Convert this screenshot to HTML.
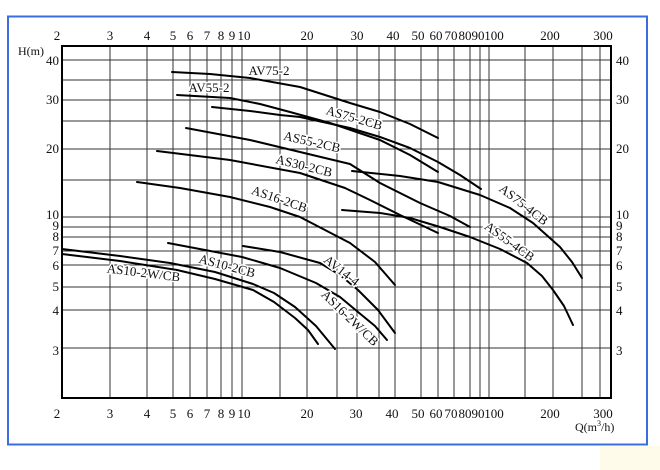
<!DOCTYPE html>
<html><head><meta charset="utf-8"><style>
html,body{margin:0;padding:0;background:#fff;}
svg{display:block;}
text{font-family:"Liberation Serif",serif;fill:#111;}
</style></head><body>
<svg width="660" height="470" viewBox="0 0 660 470" xmlns="http://www.w3.org/2000/svg">
<rect x="0" y="0" width="660" height="470" fill="#fff"/>
<rect x="600" y="446" width="60" height="24" fill="#fffbea"/>
<rect x="8" y="16.5" width="639" height="428" fill="none" stroke="#3a6ee0" stroke-width="2"/>
<g stroke="#333" stroke-width="1">
<line x1="110" y1="46" x2="110" y2="398"/><line x1="147" y1="46" x2="147" y2="398"/>
<line x1="173" y1="46" x2="173" y2="398"/><line x1="190" y1="46" x2="190" y2="398"/>
<line x1="207" y1="46" x2="207" y2="398"/><line x1="221" y1="46" x2="221" y2="398"/>
<line x1="232" y1="46" x2="232" y2="398"/><line x1="242" y1="46" x2="242" y2="398"/>
<line x1="280" y1="46" x2="280" y2="398"/><line x1="307" y1="46" x2="307" y2="398"/>
<line x1="337" y1="46" x2="337" y2="398"/><line x1="357" y1="46" x2="357" y2="398"/>
<line x1="379" y1="46" x2="379" y2="398"/><line x1="395" y1="46" x2="395" y2="398"/>
<line x1="421" y1="46" x2="421" y2="398"/><line x1="438" y1="46" x2="438" y2="398"/>
<line x1="454" y1="46" x2="454" y2="398"/><line x1="470" y1="46" x2="470" y2="398"/>
<line x1="480" y1="46" x2="480" y2="398"/><line x1="489" y1="46" x2="489" y2="398"/>
<line x1="525" y1="46" x2="525" y2="398"/><line x1="553" y1="46" x2="553" y2="398"/>
<line x1="582" y1="46" x2="582" y2="398"/><line x1="600" y1="46" x2="600" y2="398"/>
<line x1="62" y1="60" x2="611" y2="60"/><line x1="62" y1="80" x2="611" y2="80"/>
<line x1="62" y1="100" x2="611" y2="100"/><line x1="62" y1="121" x2="611" y2="121"/>
<line x1="62" y1="149" x2="611" y2="149"/><line x1="62" y1="180" x2="611" y2="180"/>
<line x1="62" y1="217" x2="611" y2="217"/><line x1="62" y1="227" x2="611" y2="227"/>
<line x1="62" y1="237" x2="611" y2="237"/><line x1="62" y1="251" x2="611" y2="251"/>
<line x1="62" y1="265" x2="611" y2="265"/><line x1="62" y1="287" x2="611" y2="287"/>
<line x1="62" y1="310" x2="611" y2="310"/><line x1="62" y1="348" x2="611" y2="348"/>
</g>
<rect x="62" y="46" width="549" height="352" fill="none" stroke="#000" stroke-width="2"/>
<g fill="none" stroke="#000" stroke-width="2" stroke-linejoin="round" stroke-linecap="round">
<polyline points="172,72 210,74 250,78 300,87 350,103 380,112 410,124 438,138"/>
<polyline points="177,95 230,98 260,104 290,112 330,123 380,140 410,155 438,172"/>
<polyline points="212,107 250,111 280,115 300,117 350,128 380,137 410,148 438,162 460,175 481,189"/>
<polyline points="186,128 250,140 300,152 350,164 380,183 420,203 450,216 470,227"/>
<polyline points="157,151 230,160 300,173 345,188 370,200 400,215 438,233"/>
<polyline points="137,182 180,188 230,197 270,207 300,217 350,243 375,262 395,285"/>
<polyline points="352,171 400,176 438,182 480,195 510,208 533,223 560,247 572,262 582,278"/>
<polyline points="342,210 380,213 410,218 440,227 470,237 500,249 527,263 542,276 553,290 564,306 573,325"/>
<polyline points="243,246 280,252 320,263 340,275 358,290 378,310 395,333"/>
<polyline points="168,243 205,250 242,257 280,268 316,283 340,297 358,312 375,326 387,340"/>
<polyline points="62,249 120,256 170,263 215,272 253,284 274,293 295,307 316,326 335,349"/>
<polyline points="62,254 120,261 177,270 215,279 253,290 274,302 295,318 308,330 318,344"/>
</g>
<g font-size="13" stroke="#fff" stroke-width="3" paint-order="stroke" text-anchor="middle">
<text x="269" y="75">AV75-2</text>
<text x="209" y="92">AV55-2</text>
<text transform="translate(353,122) rotate(16)">AS75-2CB</text>
<text transform="translate(311,146) rotate(13)">AS55-2CB</text>
<text transform="translate(303,170) rotate(14)">AS30-2CB</text>
<text transform="translate(278,203) rotate(19)">AS16-2CB</text>
<text transform="translate(521,208) rotate(38)">AS75-4CB</text>
<text transform="translate(507,245) rotate(36)">AS55-4CB</text>
<text transform="translate(339,274) rotate(38)">AV14-4</text>
<text transform="translate(347,321) rotate(44)">AS16-2W/CB</text>
<text transform="translate(226,270) rotate(15)">AS10-2CB</text>
<text transform="translate(143,277) rotate(7)">AS10-2W/CB</text>
</g>
<g font-size="13" text-anchor="middle">
<text x="57" y="40">2</text><text x="110" y="40">3</text><text x="147" y="40">4</text>
<text x="173" y="40">5</text><text x="190" y="40">6</text><text x="207" y="40">7</text>
<text x="221" y="40">8</text><text x="232" y="40">9</text><text x="244" y="40">10</text>
<text x="307" y="40">20</text><text x="357" y="40">30</text><text x="393" y="40">40</text>
<text x="418" y="40">50</text><text x="436" y="40">60</text><text x="451" y="40">70</text>
<text x="465" y="40">80</text><text x="478" y="40">90</text><text x="494" y="40">100</text>
<text x="550" y="40">200</text><text x="603" y="40">300</text>
<text x="57" y="418">2</text><text x="110" y="418">3</text><text x="147" y="418">4</text>
<text x="173" y="418">5</text><text x="190" y="418">6</text><text x="207" y="418">7</text>
<text x="221" y="418">8</text><text x="232" y="418">9</text><text x="244" y="418">10</text>
<text x="307" y="418">20</text><text x="356" y="418">30</text><text x="392" y="418">40</text>
<text x="418" y="418">50</text><text x="436" y="418">60</text><text x="451" y="418">70</text>
<text x="465" y="418">80</text><text x="478" y="418">90</text><text x="494" y="418">100</text>
<text x="550" y="418">200</text><text x="603" y="418">300</text>
</g>
<g font-size="13" text-anchor="end">
<text x="59" y="65">40</text><text x="59" y="104">30</text><text x="59" y="153">20</text>
<text x="59" y="219">10</text><text x="59" y="230">9</text><text x="59" y="241">8</text>
<text x="59" y="255">7</text><text x="59" y="270">6</text><text x="59" y="291">5</text>
<text x="59" y="315">4</text><text x="59" y="355">3</text>
</g>
<g font-size="13">
<text x="616" y="65">40</text><text x="616" y="104">30</text><text x="616" y="153">20</text>
<text x="616" y="219">10</text><text x="616" y="230">9</text><text x="616" y="241">8</text>
<text x="616" y="255">7</text><text x="616" y="270">6</text><text x="616" y="291">5</text>
<text x="616" y="315">4</text><text x="616" y="355">3</text>
</g>
<text x="18" y="55" font-size="12">H(m)</text>
<text x="575" y="431" font-size="12">Q(m<tspan font-size="8" dy="-5">3</tspan><tspan dy="5">/h)</tspan></text>
</svg>
</body></html>
